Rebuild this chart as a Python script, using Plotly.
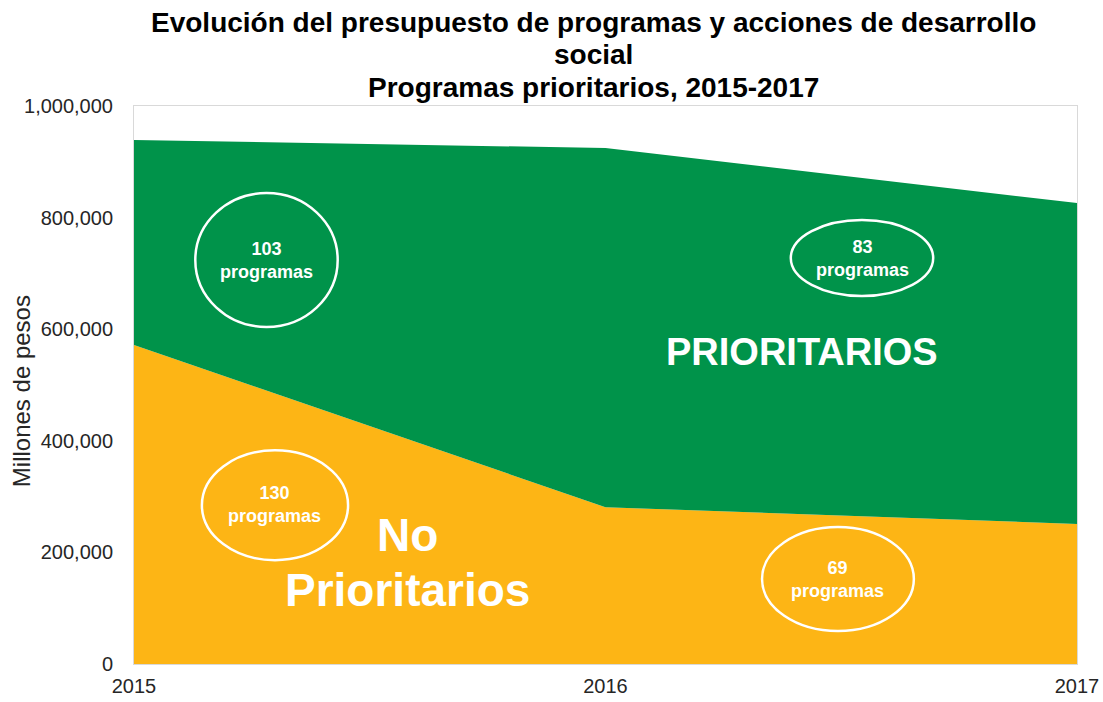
import plotly.graph_objects as go

years = [2015, 2016, 2017]
no_prioritarios = [571700, 281000, 251000]
prioritarios = [367300, 643700, 575000]
y_ticks = [0, 200000, 400000, 600000, 800000, 1000000]
y_tick_labels = ["0", "200,000", "400,000", "600,000", "800,000", "1,000,000"]
title_lines = ["Evolución del presupuesto de programas y acciones de desarrollo",
               "social",
               "Programas prioritarios, 2015-2017"]

GREEN = "#00934A"
YELLOW = "#FDB515"
FONT = "Liberation Sans, Arial, sans-serif"

fig = go.Figure()
fig.add_trace(go.Scatter(x=years, y=no_prioritarios, stackgroup="one", mode="none",
                         fillcolor=YELLOW, name="No Prioritarios", hoverinfo="x+y"))
fig.add_trace(go.Scatter(x=years, y=prioritarios, stackgroup="one", mode="none",
                         fillcolor=GREEN, name="Prioritarios", hoverinfo="x+y"))

ellipses = [
    (2015.130, 604000, 2015.432, 844000),
    (2016.393, 659500, 2016.695, 795700),
    (2015.144, 186000, 2015.454, 383000),
    (2016.332, 59000, 2016.654, 245500),
]
for x0, y0, x1, y1 in ellipses:
    fig.add_shape(type="circle", xref="x", yref="y", x0=x0, y0=y0, x1=x1, y1=y1,
                  line=dict(color="white", width=2.5), fillcolor="rgba(0,0,0,0)")

small_labels = [
    (2015.282, 724000, "103<br>programas"),
    (2016.544, 727600, "83<br>programas"),
    (2015.299, 285000, "130<br>programas"),
    (2016.493, 152300, "69<br>programas"),
]
for x, y, t in small_labels:
    fig.add_annotation(x=x, y=y, xref="x", yref="y", text="<b>" + t + "</b>", showarrow=False,
                       font=dict(family=FONT, size=18, color="white"))

fig.add_annotation(x=2016.417, y=560000, xref="x", yref="y", text="<b>PRIORITARIOS</b>",
                   showarrow=False, font=dict(family=FONT, size=38, color="white"))
fig.add_annotation(x=2015.579, y=231000, xref="x", yref="y", text="<b>No</b>",
                   showarrow=False, font=dict(family=FONT, size=46, color="white"))
fig.add_annotation(x=2015.579, y=132600, xref="x", yref="y", text="<b>Prioritarios</b>",
                   showarrow=False, font=dict(family=FONT, size=46, color="white"))

for line, py in zip(title_lines, [1.1505, 1.0914, 1.0323]):
    fig.add_annotation(x=0.487, xref="paper", y=py, yref="paper", xanchor="center", yanchor="middle",
                       text="<b>" + line + "</b>", showarrow=False,
                       font=dict(family=FONT, size=28, color="black"))

# y-axis title
fig.add_annotation(x=-0.1198, xref="paper", y=0.489, yref="paper", xanchor="center", yanchor="middle",
                   text="Millones de pesos", textangle=-90, showarrow=False,
                   font=dict(family=FONT, size=24, color="#262626"))

fig.update_layout(
    width=1103, height=702,
    margin=dict(l=134, r=26, t=106, b=38, autoexpand=False),
    paper_bgcolor="white", plot_bgcolor="white",
    showlegend=False,
    font=dict(family=FONT, color="#262626"),
)
fig.update_xaxes(range=[2015, 2017], tickvals=years, ticktext=[str(y) for y in years],
                 showgrid=False, zeroline=False, showline=True, linecolor="#d9d9d9", mirror=True,
                 tickfont=dict(size=20, color="#262626"), ticks="", ticklabelstandoff=4,
                 automargin=False)
fig.update_yaxes(range=[0, 1000000], tickvals=y_ticks, ticktext=y_tick_labels,
                 showgrid=False, zeroline=False, showline=True, linecolor="#d9d9d9", mirror=True,
                 tickfont=dict(size=20, color="#262626"), ticks="", ticklabelstandoff=16,
                 automargin=False)

fig.write_html("out.html", config={"displayModeBar": False},
               post_script="document.body.style.margin='0';document.body.style.overflow='hidden';")
